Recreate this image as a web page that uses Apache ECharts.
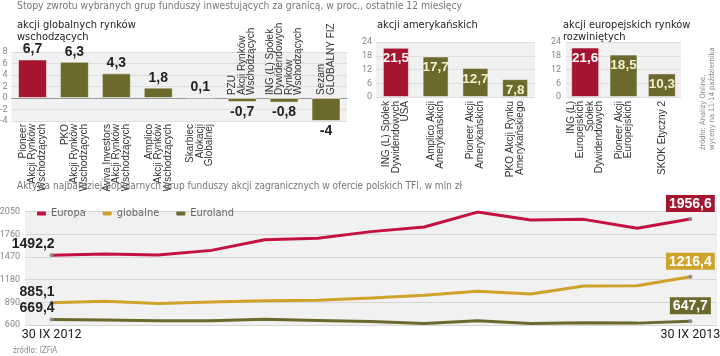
<!DOCTYPE html>
<html><head><meta charset="utf-8">
<script src="https://cdn.jsdelivr.net/npm/echarts@6/dist/echarts.min.js"></script>
<style>html,body{margin:0;padding:0;background:#fff}#c{width:720px;height:356px}</style>
</head><body><div id="c"></div>
<script>
// ---- data ----
const emCats = ['Pioneer\nAkcji Rynków\nWschodzących','PKO\nAkcji Rynków\nWschodzących','Aviva Investors\nAkcji Rynków\nWschodzących','Amplico\nAkcji Rynków\nWschodzących','Skarbiec\nAlokacji\nGlobalnej','PZU\nAkcji Rynków\nWschodzących','ING (L) Spółek\nDywidendowych\nRynków\nWschodzących','Sezam\nGLOBALNY FIZ'];
const emVals = [6.7, 6.3, 4.3, 1.8, 0.1, -0.7, -0.8, -4];
const usCats = ['ING (L) Spółek\nDywidendowych\nUSA','Amplico Akcji\nAmerykańskich','Pioneer Akcji\nAmerykańskich','PKO Akcji Rynku\nAmerykańskiego'];
const usVals = [21.5, 17.7, 12.7, 7.8];
const euCats = ['ING (L)\nEuropejskich\nSpółek\nDywidendowych','Pioneer Akcji\nEuropejskich','SKOK Etyczny 2'];
const euVals = [21.6, 18.5, 10.3];
const months = ['30 IX 2012','X 2012','XI 2012','XII 2012','I 2013','II 2013','III 2013','IV 2013','V 2013','VI 2013','VII 2013','VIII 2013','30 IX 2013'];
const europa   = [1492.2, 1510, 1495, 1555, 1690, 1711, 1795, 1855, 2045, 1945, 1952, 1838, 1956.6];
const globalne = [885.1, 903, 875, 894, 911, 916, 945, 980, 1031, 996, 1100, 1102, 1216.4];
const euroland = [669.4, 665, 655, 655, 672, 658, 644, 620, 653, 620, 628, 624, 647.7];
const emTicks = [-4, 8, 2];      // min, max, step
const rTicks = [0, 24, 6];
const lineTicks = [600, 2050, 290];

// ---- style ----
const RED = '#a5152f', OLIVE = '#6b692b', GOLD = '#cfa22a', LRED = '#c4123e';
const NARROW = "'DejaVu Sans Condensed','DejaVu Sans',sans-serif";
const SANS = "'Liberation Sans',Arial,sans-serif";
const fmt = v => String(v).replace('.', ',');
const catText = {fontFamily: SANS, fontSize: 10, lineHeight: 9.5, color: '#333'};
const catLabel = Object.assign({rotate: 90}, catText);
// bottom labels: every line right-aligned so that it starts at the axis
const rightLines = s => s ? s.split('\n').map(l => '{r|' + l + '}').join('\n') : '';
const botLabel = Object.assign({}, catLabel, {rich: {r: Object.assign({align: 'right'}, catText)}});
const G0 = {left: 11.5, width: 335.5, top: 52, height: 69};
// distance from grid top to the zero line of panel 1 (used to put the upper label axis on zero)
const zeroOffset = G0.height * emTicks[1] / (emTicks[1] - emTicks[0]);

function barData(vals, inside) {
  return vals.map((v, i) => ({
    value: v,
    itemStyle: {color: i === 0 ? RED : OLIVE},
    label: inside ? {color: i === 0 ? '#fff' : '#f3efcf'} : {position: v < 0 ? 'bottom' : 'top'}
  }));
}
function endData(vals, color) {
  const n = vals.length;
  return vals.map((v, i) => {
    if (i === 0) return {value: v, symbol: 'circle', symbolSize: 4, itemStyle: {color: '#8a8a8a'},
      label: {show: true, position: 'top', align: 'right', offset: [3, 0], distance: 2, formatter: p => fmt(p.value),
        fontFamily: SANS, fontWeight: 'bold', fontSize: 14, color: '#222'}};
    if (i === n - 1) return {value: v, symbol: 'circle', symbolSize: 4, itemStyle: {color: '#8a8a8a'},
      label: {show: true, position: 'top', distance: 5, formatter: p => fmt(p.value), backgroundColor: color,
        padding: [2, 3, 1, 3], fontFamily: SANS, fontWeight: 'bold', fontSize: 14, color: '#fff'}};
    return {value: v, symbol: 'none'};
  });
}

const gridBg = {show: true, backgroundColor: '#f1f1f2', borderWidth: 0, containLabel: false, outerBoundsMode: 'none'};
const valAxisBase = {type: 'value', axisLine: {show: false}, axisTick: {show: false},
  axisLabel: {fontSize: 9, color: '#888', margin: 4, fontFamily: 'Roboto', formatter: v => String(v)},
  splitLine: {lineStyle: {color: '#dedede'}}};
const ttl = (text, left, top, size, color, lh) => ({text, left, top, padding: 0,
  textStyle: {fontFamily: NARROW, fontSize: size, lineHeight: lh || size + 1, fontWeight: 'normal', color}});

const chart = echarts.init(document.getElementById('c'), null, {renderer: 'canvas'});
chart.setOption({
  animation: false,
  backgroundColor: '#fff',
  title: [
    ttl('Stopy zwrotu wybranych grup funduszy inwestujących za granicą, w proc., ostatnie 12 miesięcy', 17, 1, 10.3, '#777'),
    ttl('akcji globalnych rynków\nwschodzących', 17, 19, 11, '#222', 12),
    ttl('akcji amerykańskich', 377, 19, 11, '#222'),
    ttl('akcji europejskich rynków\nrozwiniętych', 563, 19, 11, '#222', 12),
    ttl('Aktywa najbardziej popularnych grup funduszy akcji zagranicznych w ofercie polskich TFI, w mln zł', 17, 181, 10, '#777'),
    ttl('źródło: IZFiA', 13, 346, 8, '#888')
  ],
  graphic: [{type: 'text', x: 699, y: 150, rotation: Math.PI / 2,
    style: {text: 'źródło: Analizy Online,\nwyceny na 11-14 października', fontFamily: NARROW, fontSize: 7.5, lineHeight: 9,
      fill: '#888', align: 'left', verticalAlign: 'top'}}],
  legend: {data: ['Europa', 'globalne', 'Euroland'], left: 32, top: 203, itemWidth: 9, itemHeight: 4, itemGap: 17,
    icon: 'roundRect', textStyle: {fontFamily: NARROW, fontSize: 11, color: '#666'}},
  grid: [
    Object.assign({}, G0, gridBg),
    Object.assign({left: 376, width: 159, top: 42, height: 55}, gridBg),
    Object.assign({left: 566, width: 115, top: 42, height: 55}, gridBg),
    Object.assign({left: 25, width: 692, top: 211.7, height: 113.3}, gridBg)
  ],
  xAxis: [
    {type: 'category', gridIndex: 0, data: emCats, axisLine: {onZero: true, lineStyle: {color: '#999'}},
      axisTick: {show: false}, axisLabel: Object.assign({margin: 3, interval: 0,
        formatter: (s, i) => emVals[i] < 0 ? '' : rightLines(s)}, botLabel)},
    {type: 'category', gridIndex: 0, position: 'top', offset: -zeroOffset, data: emCats,
      axisLine: {show: false, onZero: false}, axisTick: {show: false},
      axisLabel: Object.assign({}, catLabel, {rotate: -90, margin: 3, interval: 0, formatter: (s, i) => emVals[i] < 0 ? s : ''})},
    {type: 'category', gridIndex: 1, data: usCats, axisLine: {show: false}, axisTick: {show: false},
      axisLabel: Object.assign({margin: 4, interval: 0, formatter: s => rightLines(s)}, botLabel)},
    {type: 'category', gridIndex: 2, data: euCats, axisLine: {show: false}, axisTick: {show: false},
      axisLabel: Object.assign({margin: 4, interval: 0, formatter: s => rightLines(s)}, botLabel)},
    {type: 'category', gridIndex: 3, data: months, boundaryGap: true, axisLine: {show: false}, axisTick: {show: false},
      axisLabel: {interval: (i) => i === 0 || i === months.length - 1, margin: 3, fontSize: 12.5, color: '#222', fontFamily: 'Roboto'}}
  ],
  yAxis: [
    Object.assign({}, valAxisBase, {gridIndex: 0, min: emTicks[0], max: emTicks[1], interval: emTicks[2]}),
    Object.assign({}, valAxisBase, {gridIndex: 1, min: rTicks[0], max: rTicks[1], interval: rTicks[2]}),
    Object.assign({}, valAxisBase, {gridIndex: 2, min: rTicks[0], max: rTicks[1], interval: rTicks[2], axisLabel: Object.assign({}, valAxisBase.axisLabel, {margin: 5})}),
    Object.assign({}, valAxisBase, {gridIndex: 3, min: lineTicks[0], max: lineTicks[1], interval: lineTicks[2],
      axisLabel: Object.assign({}, valAxisBase.axisLabel, {margin: 5}), splitLine: {lineStyle: {color: '#d6d6d6'}}})
  ],
  series: [
    {type: 'bar', xAxisIndex: 0, yAxisIndex: 0, data: barData(emVals, false), barWidth: 29,
      itemStyle: {borderColor: 'rgba(255,255,255,0.5)', borderWidth: 1},
      label: {show: true, distance: 3, overflow: 'none', formatter: p => fmt(p.value), fontFamily: SANS, fontWeight: 'bold', fontSize: 14, color: '#222'}},
    {type: 'bar', xAxisIndex: 2, yAxisIndex: 1, data: barData(usVals, true), barWidth: 26,
      itemStyle: {borderColor: 'rgba(255,255,255,0.5)', borderWidth: 1},
      label: {show: true, position: 'insideTop', distance: 4, overflow: 'none', formatter: p => fmt(p.value), fontFamily: SANS, fontWeight: 'bold', fontSize: 13.5}},
    {type: 'bar', xAxisIndex: 3, yAxisIndex: 2, data: barData(euVals, true), barWidth: 28,
      itemStyle: {borderColor: 'rgba(255,255,255,0.5)', borderWidth: 1},
      label: {show: true, position: 'insideTop', distance: 4, overflow: 'none', formatter: p => fmt(p.value), fontFamily: SANS, fontWeight: 'bold', fontSize: 13.5}},
    {name: 'Europa', type: 'line', xAxisIndex: 4, yAxisIndex: 3, data: endData(europa, RED), symbol: 'none', showSymbol: true,
      lineStyle: {color: LRED, width: 3}, itemStyle: {color: LRED}},
    {name: 'globalne', type: 'line', xAxisIndex: 4, yAxisIndex: 3, data: endData(globalne, GOLD), symbol: 'none', showSymbol: true,
      lineStyle: {color: GOLD, width: 3}, itemStyle: {color: GOLD}},
    {name: 'Euroland', type: 'line', xAxisIndex: 4, yAxisIndex: 3, data: endData(euroland, OLIVE), symbol: 'none', showSymbol: true,
      lineStyle: {color: OLIVE, width: 3}, itemStyle: {color: OLIVE}}
  ]
});
</script></body></html>
